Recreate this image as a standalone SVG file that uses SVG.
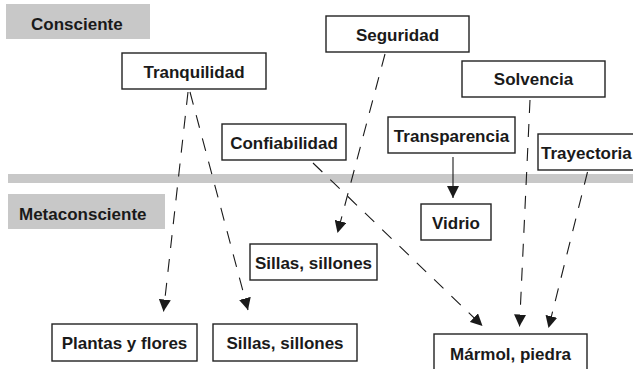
<svg xmlns="http://www.w3.org/2000/svg" width="633" height="369" viewBox="0 0 633 369">
<defs>
<style>
.box{fill:#fff;stroke:#222;stroke-width:1.4}
.band{fill:#c8c8c8}
.t{font-family:"Liberation Sans",Arial,sans-serif;font-weight:bold;font-size:17px;fill:#1a1a1a;text-anchor:middle}
.l{text-anchor:start}
.c{fill:none;stroke:#1a1a1a;stroke-width:1.1;stroke-dasharray:13 11;marker-end:url(#ah)}
</style>
<marker id="ah" viewBox="0 0 12 12" refX="12" refY="6" markerWidth="12" markerHeight="12" markerUnits="userSpaceOnUse" orient="auto">
<path d="M0,0 L12,6 L0,12 Z" fill="#1a1a1a"/>
</marker>
</defs>
<rect class="band" x="8" y="174" width="625" height="9"/>
<g id="consciente"><rect class="band" x="6" y="4" width="144" height="35"/><text class="t l" x="31" y="30">Consciente</text></g>
<g id="metaconsciente"><rect class="band" x="8" y="194" width="157" height="35"/><text class="t l" x="19" y="220">Metaconsciente</text></g>
<g id="connectors">
<path class="c" d="M188,92 L163.5,311.5"/>
<path class="c" d="M190,92 L248,310"/>
<path class="c" d="M385,54 L337.5,233"/>
<path class="c" d="M313,163 L482.5,326"/>
<path class="c" d="M453,157 L453,198" style="stroke-dasharray:none"/>
<path class="c" d="M530,100 L519.5,326.5"/>
<path class="c" d="M587.5,172 L548.5,328"/>
</g>
<g id="tranquilidad"><rect class="box" x="122" y="53" width="144" height="36"/><text class="t" x="194" y="77.5">Tranquilidad</text></g>
<g id="seguridad"><rect class="box" x="326" y="16" width="143" height="36"/><text class="t" x="397.5" y="40.5">Seguridad</text></g>
<g id="solvencia"><rect class="box" x="462" y="61" width="143" height="36"/><text class="t" x="533.5" y="85">Solvencia</text></g>
<g id="confiabilidad"><rect class="box" x="222" y="124" width="124" height="36"/><text class="t" x="284" y="149">Confiabilidad</text></g>
<g id="transparencia"><rect class="box" x="388" y="117" width="127" height="36"/><text class="t" x="451.5" y="141.5">Transparencia</text></g>
<g id="trayectoria"><rect class="box" x="538" y="134" width="100" height="36"/><text class="t l" x="541" y="159">Trayectoria</text></g>
<g id="vidrio"><rect class="box" x="421" y="204" width="70" height="36"/><text class="t" x="456" y="229">Vidrio</text></g>
<g id="sillas1"><rect class="box" x="250" y="244" width="127" height="36"/><text class="t" x="313.5" y="268.5">Sillas, sillones</text></g>
<g id="plantas"><rect class="box" x="52" y="324" width="145" height="37"/><text class="t" x="124.5" y="349">Plantas y flores</text></g>
<g id="sillas2"><rect class="box" x="213" y="324" width="144" height="37"/><text class="t" x="285" y="349">Sillas, sillones</text></g>
<g id="marmol"><rect class="box" x="434" y="334" width="153" height="40"/><text class="t" x="510.5" y="360">Mármol, piedra</text></g>
</svg>
